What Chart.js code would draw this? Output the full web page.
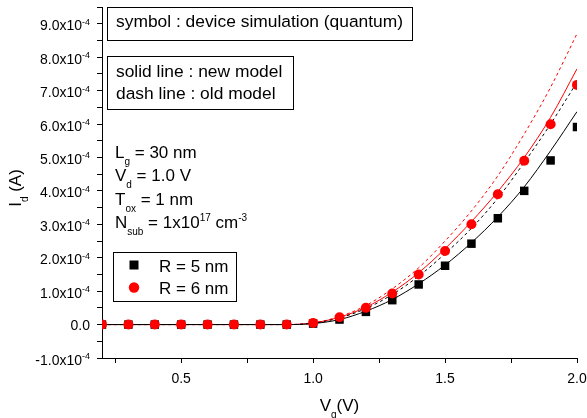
<!DOCTYPE html>
<html>
<head>
<meta charset="utf-8">
<script src="https://cdn.jsdelivr.net/npm/chart.js@4.4.1/dist/chart.umd.min.js"></script>
<style>
  html, body { margin: 0; padding: 0; background: #fff; }
  #wrap { width: 587px; height: 418px; }
</style>
</head>
<body>
<div id="wrap"><canvas id="myChart" width="587" height="418"></canvas></div>
<script>
// Vg (V)
const vg = [0.2, 0.3, 0.4, 0.5, 0.6, 0.7, 0.8, 0.9, 1.0, 1.1, 1.2, 1.3, 1.4, 1.5, 1.6, 1.7, 1.8, 1.9, 2.0];

// Id em unidades de 1e-4 A
// simbolos: simulacao do dispositivo
const r5Sim = [0, 0, 0, 0, 0, 0, 0, 0, 0.03, 0.15, 0.38, 0.73, 1.2, 1.76, 2.42, 3.18, 4.0, 4.91, 5.91];
const r6Sim = [0, 0, 0, 0, 0, 0, 0, 0, 0.05, 0.22, 0.5, 0.93, 1.5, 2.2, 3.0, 3.9, 4.9, 5.99, 7.17];
// linha cheia: modelo novo
const r5New = [0, 0, 0, 0, 0, 0, 0, 0, 0.03, 0.15, 0.4, 0.75, 1.22, 1.78, 2.45, 3.22, 4.12, 5.2, 6.37];
const r6New = [0, 0, 0, 0, 0, 0, 0, 0, 0.05, 0.22, 0.52, 0.97, 1.55, 2.27, 3.08, 3.98, 5.0, 6.2, 7.65];
// linha tracejada: modelo antigo
const r5Old = [0, 0, 0, 0, 0, 0, 0, 0, 0.04, 0.2, 0.48, 0.9, 1.45, 2.12, 2.88, 3.78, 4.85, 6.0, 7.25];
const r6Old = [0, 0, 0, 0, 0, 0, 0, 0, 0.05, 0.24, 0.57, 1.07, 1.7, 2.5, 3.4, 4.45, 5.7, 7.1, 8.7];

// ticks
const xTicks = [0.25, 0.5, 0.75, 1.0, 1.25, 1.5, 1.75, 2.0];
const xLabelValues = [0.5, 1.0, 1.5, 2.0];
const xTickLabels = ['0.5', '1.0', '1.5', '2.0'];
const yTicks = [-1, -0.5, 0, 0.5, 1, 1.5, 2, 2.5, 3, 3.5, 4, 4.5, 5, 5.5, 6, 6.5, 7, 7.5, 8, 8.5, 9, 9.5];
const yLabelValues = [-1, 0, 1, 2, 3, 4, 5, 6, 7, 8, 9];
const yTickLabels = ['-1.0', '0.0', '1.0', '2.0', '3.0', '4.0', '5.0', '6.0', '7.0', '8.0', '9.0'];
const yExponent = '-4';

const FONT = 'Arial, "Liberation Sans", sans-serif';
const RED = '#ff0000';

const toXY = (ys) => vg.map((v, i) => ({ x: v, y: ys[i] }));

// texto com indice/expoente, devolve a largura
const drawRich = (ctx, parts, x, y, size, draw = true) => {
    let cx = x;
    parts.forEach(p => {
        const small = p.sub || p.sup;
        ctx.font = `${small ? Math.round(size * 0.6) : size}px ${FONT}`;
        const dy = p.sub ? size * 0.42 : (p.sup ? -size * 0.43 : 0);
        if (draw) ctx.fillText(p.t, cx, y + dy);
        cx += ctx.measureText(p.t).width;
    });
    return cx - x;
};

const box = (ctx, x1, y1, x2, y2) => {
    ctx.strokeRect(Math.round(x1) + 0.5, Math.round(y1) + 0.5, Math.round(x2 - x1), Math.round(y2 - y1));
};

const decor = {
    id: 'decor',
    afterDraw(chart) {
        const ctx = chart.ctx;
        const xs = chart.scales.x;
        const ys = chart.scales.y;
        ctx.save();
        ctx.fillStyle = '#000';
        ctx.strokeStyle = '#000';
        ctx.lineWidth = 1;
        ctx.textBaseline = 'alphabetic';

        // rotulos do eixo y
        ctx.textAlign = 'right';
        yLabelValues.forEach((v, i) => {
            const y = ys.getPixelForValue(v);
            const lab = yTickLabels[i];
            if (v === 0) {
                ctx.font = `14px ${FONT}`;
                ctx.fillText(lab, 90, y + 5);
            } else {
                ctx.font = `9px ${FONT}`;
                const we = ctx.measureText(yExponent).width;
                ctx.fillText(yExponent, 90, y + 1);
                ctx.font = `14px ${FONT}`;
                ctx.fillText(lab + 'x10', 90 - we, y + 6.5);
            }
        });

        // rotulos do eixo x
        ctx.textAlign = 'center';
        ctx.font = `14px ${FONT}`;
        xLabelValues.forEach((v, i) => {
            ctx.fillText(xTickLabels[i], xs.getPixelForValue(v), 383);
        });

        ctx.textAlign = 'left';
        // titulo x
        const xt = [{ t: 'V' }, { t: 'g', sub: true }, { t: '(V)' }];
        const wx = drawRich(ctx, xt, 0, 0, 17, false);
        drawRich(ctx, xt, (xs.left + xs.right) / 2 - wx / 2, 411, 17);

        // titulo y
        const yt = [{ t: 'I' }, { t: 'd', sub: true }, { t: ' (A)' }];
        const wy = drawRich(ctx, yt, 0, 0, 17, false);
        ctx.save();
        ctx.translate(21, 188);
        ctx.rotate(-Math.PI / 2);
        drawRich(ctx, yt, -wy / 2, 0, 17);
        ctx.restore();

        // caixas de texto
        ctx.font = `17.4px ${FONT}`;
        const t1 = 'symbol : device simulation (quantum)';
        const w1 = ctx.measureText(t1).width;
        box(ctx, 107, 7, 116 + w1 + 9, 40);
        ctx.fillText(t1, 116, 27);

        box(ctx, 107, 56, 293, 109);
        ctx.fillText('solid line : new model', 116, 77);
        ctx.fillText('dash line : old model', 116, 99);

        // parametros
        const params = [
            [{ t: 'L' }, { t: 'g', sub: true }, { t: ' = 30 nm' }],
            [{ t: 'V' }, { t: 'd', sub: true }, { t: ' = 1.0 V' }],
            [{ t: 'T' }, { t: 'ox', sub: true }, { t: ' = 1 nm' }],
            [{ t: 'N' }, { t: 'sub', sub: true }, { t: ' = 1x10' }, { t: '17', sup: true }, { t: ' cm' }, { t: '-3', sup: true }]
        ];
        params.forEach((p, i) => drawRich(ctx, p, 115, 158 + i * 23.3, 17));

        // legenda
        box(ctx, 113, 252, 236, 301);
        ctx.fillStyle = '#000';
        ctx.fillRect(129.5, 260.5, 9, 9);
        ctx.fillStyle = RED;
        ctx.beginPath();
        ctx.arc(134, 287.5, 5.2, 0, Math.PI * 2);
        ctx.fill();
        ctx.fillStyle = '#000';
        ctx.font = `17px ${FONT}`;
        ctx.fillText('R = 5 nm', 159, 271.5);
        ctx.fillText('R = 6 nm', 159, 294);

        ctx.restore();
    }
};

const axisCommon = {
    type: 'linear',
    ticks: { display: false },
    grid: { drawOnChartArea: false, drawTicks: true, tickLength: 5, color: '#000', tickColor: '#000', lineWidth: 1 },
    border: { display: true, color: '#000', width: 1 }
};

const lineDs = (label, ys, color, dash) => ({
    label: label,
    data: toXY(ys),
    showLine: true,
    borderColor: color,
    borderWidth: 1,
    borderDash: dash,
    pointRadius: 0,
    cubicInterpolationMode: 'monotone',
    fill: false
});

const ctx = document.getElementById('myChart').getContext('2d');
const myChart = new Chart(ctx, {
    type: 'scatter',
    data: {
        datasets: [
            {
                label: 'R = 6 nm',
                data: toXY(r6Sim),
                showLine: false,
                pointStyle: 'circle',
                pointRadius: 5,
                pointBorderWidth: 0,
                pointBackgroundColor: RED,
                pointBorderColor: RED,
                clip: 0
            },
            {
                label: 'R = 5 nm',
                data: toXY(r5Sim),
                showLine: false,
                pointStyle: 'rect',
                pointRadius: 6,
                pointBorderWidth: 0,
                pointBackgroundColor: '#000',
                pointBorderColor: '#000',
                clip: 0
            },
            lineDs('new R=5', r5New, '#000', []),
            lineDs('old R=5', r5Old, '#000', [3, 3]),
            lineDs('new R=6', r6New, RED, []),
            lineDs('old R=6', r6Old, RED, [3, 3])
        ]
    },
    options: {
        responsive: false,
        animation: false,
        devicePixelRatio: 1,
        layout: { padding: { left: 97, top: 7, right: 10, bottom: 55 } },
        plugins: { legend: { display: false }, tooltip: { enabled: false } },
        scales: {
            x: Object.assign({}, axisCommon, {
                min: 0.2, max: 2.0,
                afterBuildTicks: (s) => { s.ticks = xTicks.map(v => ({ value: v })); }
            }),
            y: Object.assign({}, axisCommon, {
                min: -1, max: 9.5,
                afterBuildTicks: (s) => { s.ticks = yTicks.map(v => ({ value: v })); }
            })
        }
    },
    plugins: [decor]
});
</script>
</body>
</html>
